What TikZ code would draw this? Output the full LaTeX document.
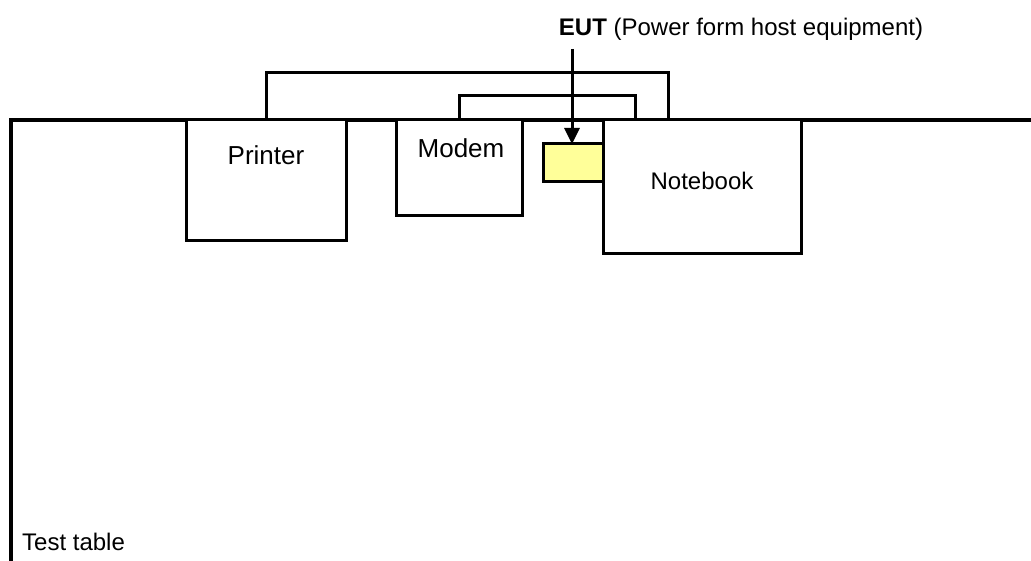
\documentclass[tikz,border=0pt]{standalone}
\usepackage{fontspec}
\setmainfont{Liberation Sans}
\usepackage{xcolor}
\usepackage{tikz}
\usetikzlibrary{arrows.meta}
\definecolor{eutyel}{HTML}{FFFF99}
\tikzset{
  tbl/.style={line width=3.6pt,line cap=rect},
  box/.style={draw,line width=3pt,inner sep=0pt,outer sep=0pt,anchor=north west,fill=white},
  cab/.style={line width=3pt},
  arr/.style={line width=3pt,-{Triangle[length=16pt,width=15pt]}},
  lbl/.style={inner sep=0pt,anchor=base,font=\fontsize{24}{28}\selectfont},
  lbb/.style={lbl,font=\fontsize{26}{30}\selectfont}
}

\begin{document}
\begin{tikzpicture}[x=1pt,y=-1pt]
\useasboundingbox (0,0) rectangle (1031,561);
\coordinate (tl) at (11,120); \coordinate (tr) at (1031,120); \coordinate (bl) at (11,563);
\draw[tbl] (bl) -- (tl) -- (tr);
\node[box,minimum width=160,minimum height=121] (printer) at (186,120) {};
\node[box,minimum width=126,minimum height=96] (modem) at (396,120) {};
\node[box,fill=eutyel,minimum width=61,minimum height=38] (eut) at (543,144) {};
\node[box,minimum width=198,minimum height=134] (notebook) at (603,120) {};
\node[lbb] (prtxt) at (266,165) {Printer};
\node[lbb] (mdtxt) at (461,158) {Modem};
\node[lbl] (nbtxt) at (702,190) {Notebook};
\node[lbl,anchor=base west] (tttxt) at (22,550) {Test table};
\node[lbl] (euttxt) at (741,36) {\textbf{EUT} (Power form host equipment)};
\draw[cab] (printer.north) -- ++(0,-47) -| ([xshift=-34]notebook.north);
\draw[cab] (modem.north) -- ++(0,-24) -| ([xshift=-67]notebook.north);
\coordinate (arrtop) at (572,49);
\draw[arr] (arrtop) -- (arrtop |- eut.north);
\end{tikzpicture}
\end{document}
